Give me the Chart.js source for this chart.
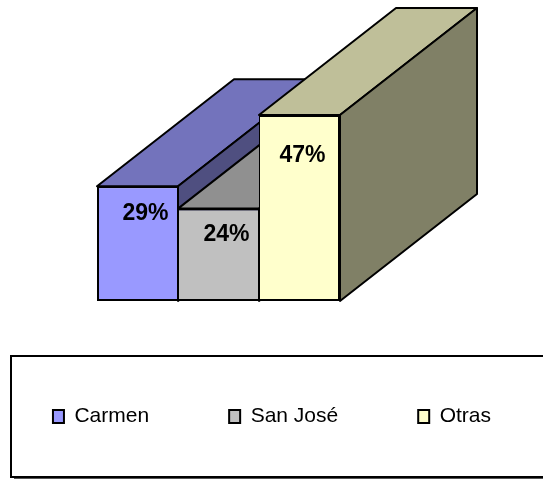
<!DOCTYPE html>
<html>
<head>
<meta charset="utf-8">
<style>
html, body { margin: 0; padding: 0; background: #fff; overflow: hidden; }
canvas { display: block; }
</style>
</head>
<body>
<canvas id="chart" width="600" height="480"></canvas>
<script src="https://cdn.jsdelivr.net/npm/chart.js@4/dist/chart.umd.js"></script>
<script>
const categories = ['Carmen', 'San José', 'Otras'];
const shares = [29.2, 23.5, 47.3];
const shareLabels = ['29%', '24%', '47%'];
const frontColors = ['#9999FF', '#C0C0C0', '#FFFFCC'];
const topColors = ['#7373BC', '#909090', '#BFBF99'];
const sideColors = ['#4F4F80', '#606060', '#808066'];

const depthX = 137;
const depthY = 107;
const labelOffsets = [[8, 27], [8, 26], [3, 41]];
const fontName = '"Liberation Sans", Arial, sans-serif';

function drawFace(ctx, points, color) {
    ctx.beginPath();
    points.forEach((p, i) => i ? ctx.lineTo(p[0], p[1]) : ctx.moveTo(p[0], p[1]));
    ctx.closePath();
    ctx.fillStyle = color;
    ctx.fill();
    ctx.stroke();
}

// the 3D look: top and side of each bar go behind the bars chart.js draws
const depthFaces = {
    id: 'depthFaces',
    beforeDatasetsDraw(chart) {
        const ctx = chart.ctx;
        ctx.save();
        ctx.strokeStyle = '#000';
        ctx.lineWidth = 2;
        ctx.lineJoin = 'round';
        chart.getDatasetMeta(0).data.forEach((bar, i) => {
            const left = bar.x - bar.width / 2;
            const right = bar.x + bar.width / 2;
            drawFace(ctx, [[left, bar.y], [left + depthX, bar.y - depthY], [right + depthX, bar.y - depthY], [right, bar.y]], topColors[i]);
            drawFace(ctx, [[right, bar.y], [right + depthX, bar.y - depthY], [right + depthX, bar.base - depthY], [right, bar.base]], sideColors[i]);
        });
        ctx.restore();
    }
};

const valueLabels = {
    id: 'valueLabels',
    afterDatasetsDraw(chart) {
        const ctx = chart.ctx;
        ctx.save();
        ctx.fillStyle = '#000';
        ctx.font = 'bold 23px ' + fontName;
        ctx.textAlign = 'center';
        ctx.textBaseline = 'middle';
        chart.getDatasetMeta(0).data.forEach((bar, i) => {
            ctx.fillText(shareLabels[i], bar.x + labelOffsets[i][0], bar.y + labelOffsets[i][1]);
        });
        ctx.restore();
    }
};

// canvas runs past the window like the original frame does, so move the legend back
const legendFrame = {
    id: 'legendFrame',
    afterLayout(chart) {
        chart.legend.top += 25;
        chart.legend.bottom += 25;
        chart.legend.left -= 28;
        chart.legend.right -= 28;
    },
    beforeDraw(chart) {
        const ctx = chart.ctx;
        ctx.save();
        ctx.strokeStyle = '#000';
        ctx.lineWidth = 2;
        ctx.beginPath();
        ctx.moveTo(600, 356);
        ctx.lineTo(11, 356);
        ctx.lineTo(11, 477);
        ctx.lineTo(600, 477);
        ctx.stroke();
        ctx.lineWidth = 1;
        ctx.strokeStyle = '#555';
        ctx.beginPath();
        ctx.moveTo(14, 478.5);
        ctx.lineTo(600, 478.5);
        ctx.stroke();
        ctx.restore();
    }
};

new Chart(document.getElementById('chart'), {
    type: 'bar',
    data: {
        labels: categories,
        datasets: [{
            data: shares,
            backgroundColor: frontColors,
            borderColor: '#000',
            borderWidth: [
                { left: 2, right: 1, top: 2, bottom: 2 },
                { left: 1, right: 1, top: 2, bottom: 2 },
                { left: 1, right: 2, top: 2, bottom: 2 }
            ],
            borderSkipped: false,
            inflateAmount: 0,
            clip: false,
            categoryPercentage: 1,
            barPercentage: 1
        }]
    },
    options: {
        responsive: false,
        animation: false,
        layout: { padding: { top: 115, bottom: 68 } },
        scales: {
            x: { display: false },
            y: {
                min: 0,
                max: 47.3,
                grid: { display: false },
                border: { display: false },
                ticks: { display: false },
                afterFit(scale) { scale.width = 97; }
            },
            // empty axis, keeps the room on the right for the bar depth
            rightSpace: {
                position: 'right',
                grid: { display: false },
                border: { display: false },
                ticks: { display: false },
                afterFit(scale) { scale.width = 260; }
            }
        },
        plugins: {
            tooltip: { enabled: false },
            legend: {
                position: 'bottom',
                labels: {
                    boxWidth: 11,
                    boxHeight: 13,
                    padding: 80,
                    color: '#000',
                    font: { family: fontName, size: 21 },
                    generateLabels() {
                        return categories.map((name, i) => ({
                            text: name,
                            fillStyle: frontColors[i],
                            strokeStyle: '#000',
                            lineWidth: 2,
                            index: i
                        }));
                    }
                }
            }
        }
    },
    plugins: [depthFaces, valueLabels, legendFrame]
});
</script>
</body>
</html>
